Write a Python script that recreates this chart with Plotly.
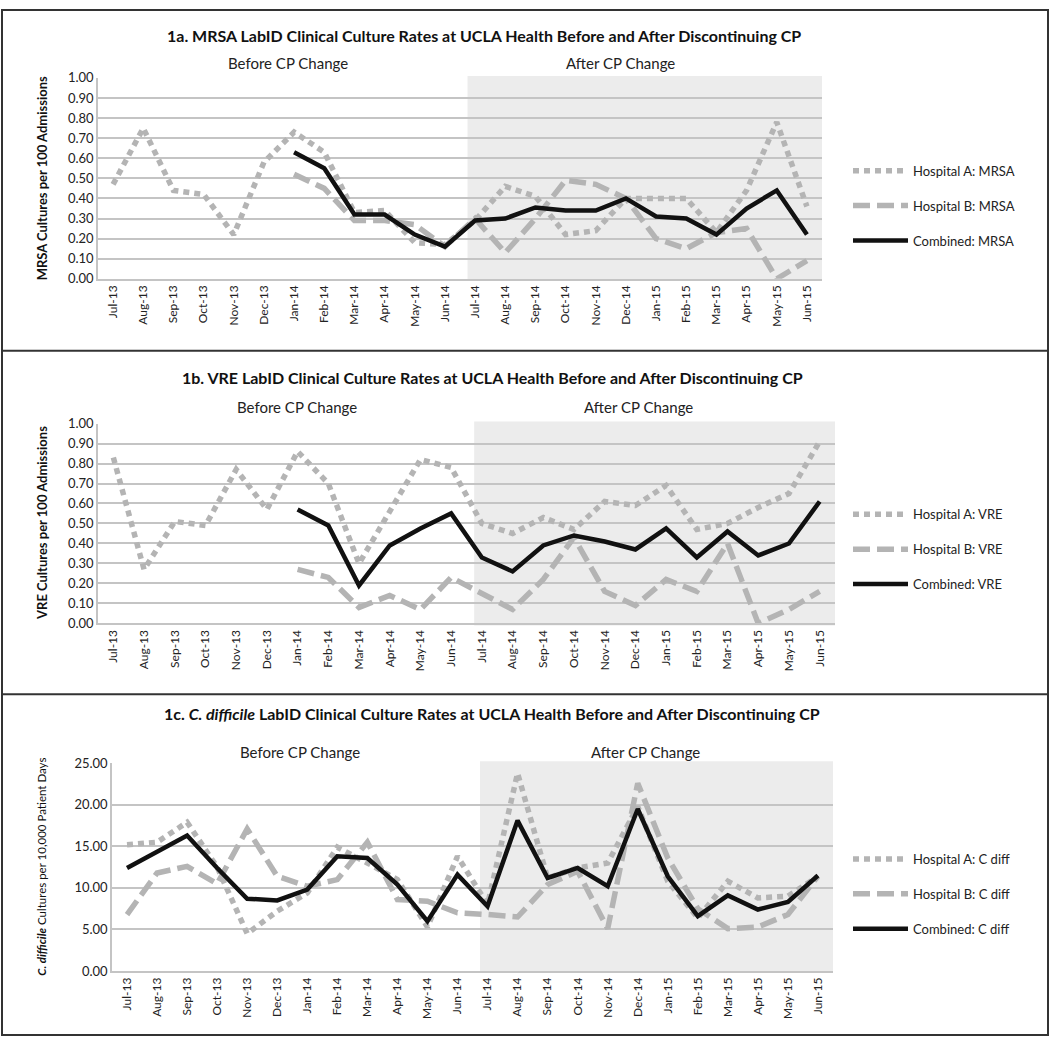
import plotly.graph_objects as go

months = ["Jul-13", "Aug-13", "Sep-13", "Oct-13", "Nov-13", "Dec-13",
          "Jan-14", "Feb-14", "Mar-14", "Apr-14", "May-14", "Jun-14",
          "Jul-14", "Aug-14", "Sep-14", "Oct-14", "Nov-14", "Dec-14",
          "Jan-15", "Feb-15", "Mar-15", "Apr-15", "May-15", "Jun-15"]

mrsa_a = [0.47, 0.75, 0.44, 0.42, 0.22, 0.58, 0.73, 0.63, 0.33, 0.34, 0.18, 0.17,
          0.29, 0.46, 0.41, 0.22, 0.24, 0.40, 0.40, 0.40, 0.23, 0.44, 0.78, 0.36]
mrsa_b = [None, None, None, None, None, None, 0.52, 0.45, 0.29, 0.29, 0.27, 0.16,
          0.30, 0.13, 0.30, 0.49, 0.47, 0.40, 0.20, 0.15, 0.23, 0.25, 0.00, 0.09]
mrsa_c = [None, None, None, None, None, None, 0.63, 0.55, 0.32, 0.32, 0.22, 0.16,
          0.29, 0.30, 0.355, 0.34, 0.34, 0.40, 0.31, 0.30, 0.22, 0.35, 0.44, 0.22]

vre_a = [0.83, 0.27, 0.51, 0.49, 0.77, 0.57, 0.86, 0.70, 0.30, 0.56, 0.82, 0.78,
         0.50, 0.45, 0.53, 0.47, 0.61, 0.59, 0.69, 0.47, 0.50, 0.58, 0.65, 0.91]
vre_b = [None, None, None, None, None, None, 0.27, 0.23, 0.08, 0.14, 0.07, 0.23,
         0.15, 0.07, 0.22, 0.43, 0.16, 0.09, 0.22, 0.16, 0.40, 0.00, 0.07, 0.16]
vre_c = [None, None, None, None, None, None, 0.57, 0.49, 0.19, 0.39, 0.475, 0.55,
         0.33, 0.26, 0.39, 0.44, 0.41, 0.37, 0.475, 0.33, 0.46, 0.34, 0.40, 0.61]

cdiff_a = [15.2, 15.5, 17.9, 12.5, 4.5, 7.2, 9.4, 14.9, 13.0, 11.0, 5.3, 13.8,
           8.0, 23.8, 11.2, 12.4, 13.0, 19.8, 10.8, 6.4, 10.8, 8.8, 9.0, 11.4]
cdiff_b = [6.8, 11.8, 12.6, 10.5, 17.1, 11.4, 10.2, 11.0, 15.5, 8.6, 8.4, 7.0,
           6.8, 6.5, 10.4, 12.0, 5.1, 22.6, 13.6, 7.5, 5.1, 5.3, 6.8, 11.4]
cdiff_c = [12.4, 14.3, 16.3, 12.4, 8.7, 8.5, 9.8, 13.8, 13.6, 10.4, 6.0, 11.6,
           7.8, 18.1, 11.2, 12.4, 10.2, 19.5, 11.4, 6.6, 9.1, 7.4, 8.3, 11.5]

W, H = 1050, 1045
FONT = "Lato"
GRAY = "#b4b4b4"
GRID = "#c4c4c4"

def px(x):
    return x / W

def py(y):
    return 1 - y / H

panels = [
    dict(a=mrsa_a, b=mrsa_b, c=mrsa_c, name="MRSA", xl=98, xr=822, yt=71, yb=275,
         rng=[0, 1.0], dtick=0.1, legend="legend", leg_top=150),
    dict(a=vre_a, b=vre_b, c=vre_c, name="VRE", xl=98, xr=835, yt=422, yb=625,
         rng=[0, 1.0], dtick=0.1, legend="legend2", leg_top=499),
    dict(a=cdiff_a, b=cdiff_b, c=cdiff_c, name="C diff", xl=112, xr=833, yt=767, yb=978,
         rng=[0, 25], dtick=5, legend="legend3", leg_top=849),
]

fig = go.Figure()
layout = dict(width=W, height=H, margin=dict(l=0, r=0, t=0, b=0),
              paper_bgcolor="white", plot_bgcolor="rgba(0,0,0,0)",
              font=dict(family=FONT, size=13, color="#222"), showlegend=True)
shapes = []
annotations = []

for i, p in enumerate(panels, start=1):
    xa = "x" if i == 1 else f"x{i}"
    ya = "y" if i == 1 else f"y{i}"
    xkey = "xaxis" if i == 1 else f"xaxis{i}"
    ykey = "yaxis" if i == 1 else f"yaxis{i}"
    series = [
        (p["a"], f"Hospital A: {p['name']}", dict(color=GRAY, width=5.5, dash="6px,5px")),
        (p["b"], f"Hospital B: {p['name']}", dict(color=GRAY, width=5.5, dash="17px,7px")),
        (p["c"], f"Combined: {p['name']}", dict(color="#111111", width=4.5)),
    ]
    for vals, nm, ln in series:
        fig.add_trace(go.Scatter(x=months, y=vals, mode="lines", name=nm, line=ln,
                                 xaxis=xa, yaxis=ya, legend=p["legend"],
                                 legendgroup=nm, connectgaps=False, hoverinfo="skip"))
    layout[xkey] = dict(domain=[px(p["xl"]), px(p["xr"])], anchor=ya, type="category",
                        categoryorder="array", categoryarray=months,
                        range=[-0.5, 23.5], tickangle=-90, showgrid=False,
                        showline=True, linecolor=GRID, linewidth=1.5, ticks="",
                        tickfont=dict(size=12, color="#222"), fixedrange=True)
    layout[ykey] = dict(domain=[py(p["yb"]), py(p["yt"])], anchor=xa,
                        range=p["rng"], dtick=p["dtick"], tickformat=".2f",
                        showgrid=True, gridcolor=GRID, gridwidth=1.5,
                        showline=True, linecolor=GRID, linewidth=1.5, ticks="",
                        zeroline=False, tickfont=dict(size=13, color="#222"),
                        fixedrange=True)
    # shaded "after" region
    shapes.append(dict(type="rect", xref=xa, yref=f"{ya} domain", x0=11.75, x1=23.66,
                       y0=-0.01, y1=1.01, fillcolor="#ececec", line=dict(width=0),
                       layer="below"))
    layout[p["legend"]] = dict(x=px(848), y=py(p["leg_top"]), xanchor="left",
                               yanchor="top", itemwidth=55, tracegroupgap=15,
                               bgcolor="rgba(0,0,0,0)", font=dict(size=13, color="#222"))

# titles and section labels
titles = [
    ("<b>1a. MRSA LabID Clinical Culture Rates at UCLA Health Before and After Discontinuing CP</b>", 484, 28),
    ("<b>1b. VRE LabID Clinical Culture Rates at UCLA Health Before and After Discontinuing CP</b>", 492, 375),
    ("<b>1c. <i>C. difficile</i> LabID Clinical Culture Rates at UCLA Health Before and After Discontinuing CP</b>", 492, 716),
]
for t, x, y in titles:
    annotations.append(dict(text=t, x=px(x), y=py(y), xref="paper", yref="paper",
                            showarrow=False, font=dict(size=16, color="#111"),
                            xanchor="center", yanchor="middle"))

sections = [("Before CP Change", 288, 56), ("After CP Change", 620, 56),
            ("Before CP Change", 297, 405), ("After CP Change", 638, 405),
            ("Before CP Change", 300, 756), ("After CP Change", 645, 756)]
for t, x, y in sections:
    annotations.append(dict(text=t, x=px(x), y=py(y), xref="paper", yref="paper",
                            showarrow=False, font=dict(size=15, color="#222"),
                            xanchor="center", yanchor="middle"))

ytitles = [("<b>MRSA Cultures per 100 Admissions</b>", 173, 13),
           ("<b>VRE Cultures per 100 Admissions</b>", 523, 13),
           ("<b><i>C. difficile</i></b> Cultures per 10,000 Patient Days", 872, 11.5)]
for t, y, s in ytitles:
    annotations.append(dict(text=t, x=px(42), y=py(y), xref="paper", yref="paper",
                            showarrow=False, textangle=-90, font=dict(size=s, color="#111"),
                            xanchor="center", yanchor="middle"))

# frame and separators
shapes.append(dict(type="rect", xref="paper", yref="paper", x0=px(2), x1=px(1048),
                   y0=py(1043), y1=py(2), line=dict(color="#333", width=2)))
for yy in (348, 697):
    shapes.append(dict(type="line", xref="paper", yref="paper", x0=px(2), x1=px(1048),
                       y0=py(yy), y1=py(yy), line=dict(color="#333", width=2)))

layout["shapes"] = shapes
layout["annotations"] = annotations
fig.update_layout(**layout)

post = (
    "document.documentElement.style.margin='0';"
    "document.body.style.margin='0';document.body.style.padding='0';"
    "document.body.style.overflow='hidden';"
    "var g=document.getElementsByClassName('plotly-graph-div')[0];"
    "g.style.position='absolute';g.style.top='0px';g.style.left='0px';"
)
fig.write_html("out.html", config={"displayModeBar": False}, post_script=post)
